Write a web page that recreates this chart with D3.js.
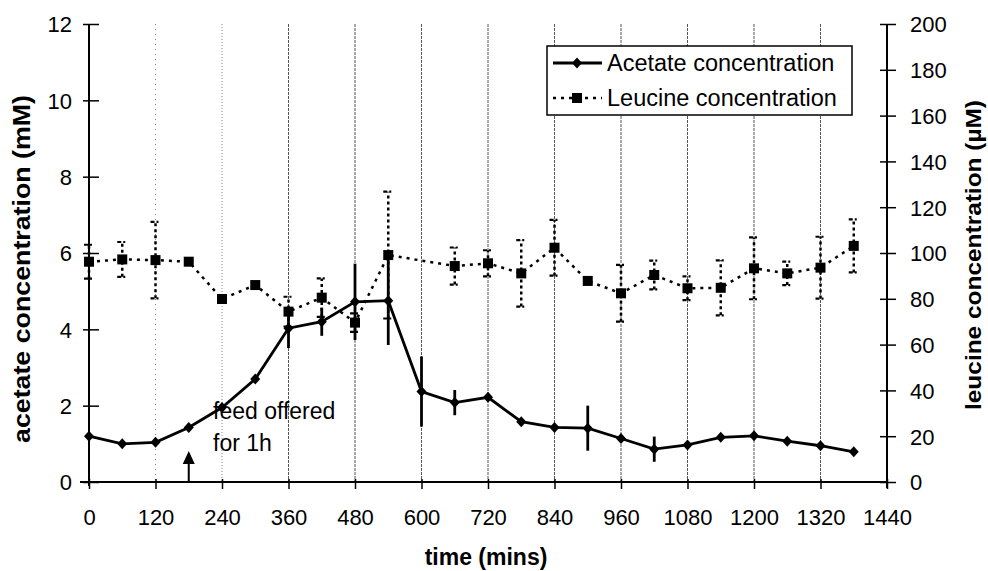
<!DOCTYPE html>
<html><head><meta charset="utf-8">
<script src="https://cdn.jsdelivr.net/npm/d3@7"></script>
<style>
body{margin:0;background:#fff;}
text{font-family:"Liberation Sans",Arial,Helvetica,sans-serif;fill:#000;}
</style></head>
<body><svg id="c" width="988" height="571"></svg>
<script>
// ---- data ----
const acetateTimes = [0,60,120,180,240,300,360,420,480,540,600,660,720,780,840,900,960,1020,1080,1140,1200,1260,1320,1380];
const acetate =      [1.2,1.0,1.04,1.43,1.95,2.7,4.03,4.2,4.72,4.75,2.37,2.08,2.22,1.58,1.43,1.41,1.14,0.86,0.97,1.17,1.21,1.07,0.95,0.79];
const acetateErr =   [0,0,0,0,0,0,0.52,0.37,1.0,1.16,0.92,0.33,0,0,0,0.59,0,0.33,0,0,0,0,0,0];
const leucineTimes = [0,60,120,180,240,300,360,420,480,540,660,720,780,840,900,960,1020,1080,1140,1200,1260,1320,1380];
const leucine =      [96.2,97.2,96.9,96.2,79.9,86,74.4,80.5,69.6,99.1,94.3,95.5,91.1,102.3,87.8,82.4,90.4,84.6,84.8,93.3,91.1,93.6,103.1];
const leucineErr =   [7.4,7.6,16.7,0,0,0,6.5,8.4,4,27.7,8.1,5.7,14.5,12.2,0,12.4,6.3,5.2,12,13.5,5.1,13.5,11.6];
const xTicks = [0,120,240,360,480,600,720,840,960,1080,1200,1320,1440];
const yLeftTicks = [0,2,4,6,8,10,12];
const yRightTicks = [0,20,40,60,80,100,120,140,160,180,200];
const seriesNames = ["Acetate concentration","Leucine concentration"];
const feedTime = 180;

const svg = d3.select("#c");
const L = 89, R = 887, T = 24, B = 482;
const x = d3.scaleLinear().domain([0,1440]).range([L,R]);
const yL = d3.scaleLinear().domain([0,12]).range([B,T]);
const yR = d3.scaleLinear().domain([0,200]).range([B,T]);
const fmt = d3.format("d");

// gridlines
const grid = svg.append("g");
xTicks.filter(t=>t>0 && t<1440).forEach(t=>{
  const ln = grid.append("line").attr("x1",x(t)).attr("x2",x(t)).attr("y1",T).attr("y2",B)
    .attr("stroke", t<=240 ? "#888" : "#555").attr("stroke-width",1);
  if (t===120) ln.attr("stroke-dasharray","1,4");
  else if (t===240) ln.attr("stroke-dasharray","1,2");
  else ln.attr("stroke-dasharray","3,1");
});

// axes
const ax = svg.append("g").attr("transform",`translate(0,${B})`)
  .call(d3.axisBottom(x).tickValues(xTicks).tickFormat(fmt).tickSize(7).tickSizeOuter(0).tickPadding(0));
ax.select(".domain").remove();
ax.selectAll(".tick line").attr("y1",-3).attr("y2",7).attr("stroke-width",1.5);
ax.selectAll(".tick text").attr("y",43).attr("dy",0).style("font-size","22px");
svg.append("line").attr("x1",80).attr("x2",R).attr("y1",B).attr("y2",B).attr("stroke","#000").attr("stroke-width",2);

const al = svg.append("g").attr("transform",`translate(${L},0)`)
  .call(d3.axisLeft(yL).tickValues(yLeftTicks).tickFormat(fmt).tickSize(6).tickSizeOuter(0).tickPadding(0));
al.select(".domain").remove();
al.selectAll(".tick line").attr("x1",10).attr("x2",-6).attr("stroke-width",1.5);
al.selectAll(".tick text").attr("x",-17).attr("dy","0.36em").style("font-size","22px");
svg.append("line").attr("x1",L).attr("x2",L).attr("y1",T).attr("y2",B+4).attr("stroke","#000").attr("stroke-width",2);

const ar = svg.append("g").attr("transform",`translate(${R},0)`)
  .call(d3.axisRight(yR).tickValues(yRightTicks).tickFormat(fmt).tickSize(9).tickSizeOuter(0).tickPadding(0));
ar.select(".domain").remove();
ar.selectAll(".tick line").attr("x1",-7).attr("x2",9).attr("stroke-width",1.5);
ar.selectAll(".tick text").attr("x",23).attr("dy","0.36em").style("font-size","22px");
svg.append("line").attr("x1",R).attr("x2",R).attr("y1",T).attr("y2",B+6).attr("stroke","#000").attr("stroke-width",2);

// axis titles
svg.append("text").attr("transform",`translate(30,269) rotate(-90)`).attr("text-anchor","middle")
  .attr("textLength",348).attr("lengthAdjust","spacingAndGlyphs")
  .style("font-size","23px").style("font-weight","bold").text("acetate concentration (mM)");
svg.append("text").attr("transform",`translate(981,255) rotate(-90)`).attr("text-anchor","middle")
  .attr("textLength",310).attr("lengthAdjust","spacingAndGlyphs")
  .style("font-size","22px").style("font-weight","bold").text("leucine concentration (µM)");
svg.append("text").attr("x",486).attr("y",565).attr("text-anchor","middle")
  .style("font-size","23px").style("font-weight","bold").text("time (mins)");

// leucine series
const lData = leucineTimes.map((t,i)=>({t, v:leucine[i], e:leucineErr[i]}));
const gLeu = svg.append("g");
lData.filter(d=>d.e>0).forEach(d=>{
  gLeu.append("line").attr("x1",x(d.t)).attr("x2",x(d.t)).attr("y1",yR(d.v-d.e)).attr("y2",yR(d.v+d.e))
    .attr("stroke","#000").attr("stroke-width",2.5).attr("stroke-dasharray","3,3");
  [d.v-d.e,d.v+d.e].forEach(v=>{
    gLeu.append("line").attr("x1",x(d.t)-5).attr("x2",x(d.t)+5).attr("y1",yR(v)).attr("y2",yR(v))
      .attr("stroke","#000").attr("stroke-width",2.2).attr("stroke-dasharray","4,2,2,2");
  });
});
gLeu.append("path").datum(lData)
  .attr("d", d3.line().x(d=>x(d.t)).y(d=>yR(d.v)))
  .attr("fill","none").attr("stroke","#000").attr("stroke-width",2.5).attr("stroke-dasharray","3,5");
gLeu.selectAll("rect").data(lData).join("rect")
  .attr("x",d=>x(d.t)-5).attr("y",d=>yR(d.v)-5).attr("width",10).attr("height",10).attr("fill","#000");

// acetate series
const aData = acetateTimes.map((t,i)=>({t, v:acetate[i], e:acetateErr[i]}));
const gAc = svg.append("g");
aData.filter(d=>d.e>0).forEach(d=>{
  gAc.append("line").attr("x1",x(d.t)).attr("x2",x(d.t)).attr("y1",yL(d.v-d.e)).attr("y2",yL(d.v+d.e))
    .attr("stroke","#000").attr("stroke-width",2.8);
});
gAc.append("path").datum(aData)
  .attr("d", d3.line().x(d=>x(d.t)).y(d=>yL(d.v)))
  .attr("fill","none").attr("stroke","#000").attr("stroke-width",2.8);
const diamond = "M0,-5.5L5,0L0,5.5L-5,0Z";
gAc.selectAll("path.m").data(aData).join("path").attr("class","m")
  .attr("d",diamond).attr("transform",d=>`translate(${x(d.t)},${yL(d.v)})`).attr("fill","#000");

// feed annotation
const fx = x(feedTime);
svg.append("line").attr("x1",fx).attr("x2",fx).attr("y1",481).attr("y2",460).attr("stroke","#000").attr("stroke-width",2);
svg.append("path").attr("d",`M${fx},451L${fx+6},464L${fx-6},464Z`).attr("fill","#000");
svg.append("text").attr("x",213).attr("y",419).style("font-size","23px").text("feed offered");
svg.append("text").attr("x",213).attr("y",451).style("font-size","23px").text("for 1h");

// legend
const lg = svg.append("g");
lg.append("rect").attr("x",547).attr("y",46).attr("width",305).attr("height",69)
  .attr("fill","#fff").attr("stroke","#000").attr("stroke-width",1.5);
lg.append("line").attr("x1",553).attr("x2",602).attr("y1",63).attr("y2",63).attr("stroke","#000").attr("stroke-width",2.8);
lg.append("path").attr("d",diamond).attr("transform","translate(577,63)").attr("fill","#000");
lg.append("line").attr("x1",553).attr("x2",602).attr("y1",98).attr("y2",98).attr("stroke","#000").attr("stroke-width",2.5).attr("stroke-dasharray","3,5");
lg.append("rect").attr("x",572).attr("y",93).attr("width",10).attr("height",10).attr("fill","#000");
lg.append("text").attr("x",607).attr("y",71).style("font-size","23.5px").text(seriesNames[0]);
lg.append("text").attr("x",607).attr("y",106).style("font-size","23.5px").text(seriesNames[1]);
</script></body></html>
